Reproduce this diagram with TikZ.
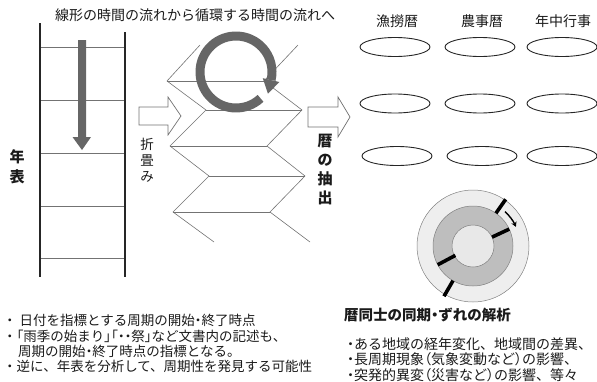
\documentclass[tikz,border=0pt]{standalone}
\usepackage{fontspec}
\setmainfont{Noto Sans CJK JP}
\newfontfamily\pp[RawFeature=+palt]{Noto Sans CJK JP}
\usetikzlibrary{calc,shapes.geometric,arrows.meta}
\definecolor{arrowgray}{HTML}{666666}
\definecolor{ringlight}{HTML}{EEEEEE}
\definecolor{ringmid}{HTML}{BEBEBE}
\definecolor{ringinner}{HTML}{E8E8E8}
\definecolor{txt}{HTML}{1A1A1A}
\begin{document}
\begin{tikzpicture}[x=1pt,y=-1pt,
  rail/.style={draw=black!85,line width=1.6pt},
  rung/.style={draw=black!55,line width=0.7pt},
  fold/.style={draw=black!55,line width=0.6pt},
  hollow/.style={draw=black!55,fill=white,line width=0.7pt},
  ell/.style={ellipse,draw=black!85,line width=0.9pt,fill=white,minimum width=70pt,minimum height=19pt,inner sep=0pt},
  ringline/.style={draw=black!50,line width=0.5pt},
  blackmark/.style={draw=black,line width=3.6pt},
  lbl/.style={text=txt,inner sep=0pt},
  listl/.style={lbl,anchor=base west,font=\fontsize{13.5}{15}\selectfont},
  listr/.style={lbl,anchor=base west,font=\fontsize{14}{15}\selectfont}]
\useasboundingbox (0,0) rectangle (597,381);
\clip (0,0) rectangle (597,381);
% ---------- ladder (timeline) ----------
\coordinate (LT) at (40,23); \coordinate (LB) at (40,277);
\coordinate (RT) at (125,32); \coordinate (RB) at (125,277);
\foreach \y in {47,100,153,206,258} \draw[rung] (40,\y) -- (125,\y);
\draw[rail] (LT) -- (LB);
\draw[rail] (RT) -- (RB);
\fill[arrowgray] (78,40) -- (86,40) -- (86,137) -- (91,137) -- (82,150) -- (72.5,137) -- (78,137) -- cycle;
\node[lbl,align=center,font=\bfseries\fontsize{15}{20}\selectfont] (nenpyo) at (17,167) {年\\表};
% ---------- arrow 1 ----------
\draw[hollow] (139,107) -- (168,107) -- (168,97) -- (181,116) -- (168,135) -- (168,125) -- (139,125) -- cycle;
\node[lbl,align=center,font=\fontsize{13.5}{16}\selectfont] (oritatami) at (147,160) {折\\畳\\み};
% ---------- folded zigzag ----------
\coordinate (TL) at (200,45); \coordinate (TR) at (298,45);
\coordinate (L0) at (167,81);  \coordinate (R0) at (264,81);
\coordinate (L1) at (206,110); \coordinate (R1) at (302,110);
\coordinate (L2) at (170,146); \coordinate (R2) at (267,146);
\coordinate (L3) at (209,176); \coordinate (R3) at (305,176);
\coordinate (L4) at (173,212); \coordinate (R4) at (270,212);
\coordinate (EL) at (214,242); \coordinate (ER) at (310,242);
\draw[fold] (TL) -- (L0) -- (L1) -- (L2) -- (L3) -- (L4) -- (EL);
\draw[fold] (TR) -- (R0) -- (R1) -- (R2) -- (R3) -- (R4) -- (ER);
\draw[fold] (L0) -- (R0) (L1) -- (R1) (L2) -- (R2) (L3) -- (R3) (L4) -- (R4);
% ---------- cycle arrow ----------
\coordinate (cc) at (236,72);
\draw[line width=9pt,arrowgray] ($(cc)+(-47:36pt)$) arc[start angle=-47,end angle=-373,radius=36pt];
\fill[arrowgray] ($(cc)+(-13:44.5pt)$) -- ($(cc)+(-13:36pt)+(-103:14pt)$) -- ($(cc)+(-13:27.5pt)$) -- cycle;
% ---------- title ----------
\node[lbl,font=\fontsize{14}{16}\selectfont] (title) at (195,15) {線形の時間の流れから循環する時間の流れへ};
% ---------- arrow 2 ----------
\draw[hollow] (308,107) -- (338,107) -- (338,97) -- (350,117) -- (338,137) -- (338,127) -- (308,127) -- cycle;
\node[lbl,align=center,font=\bfseries\fontsize{15}{19}\selectfont] (chushutsu) at (325,170) {暦\\の\\抽\\出};
% ---------- calendars ----------
\node[lbl,font=\fontsize{14}{16}\selectfont] (h1) at (397,21) {漁撈暦};
\node[lbl,font=\fontsize{14}{16}\selectfont] (h2) at (482,21) {農事暦};
\node[lbl,font=\fontsize{14}{16}\selectfont] (h3) at (563,21) {年中行事};
\node[ell] (e11) at (395,47) {};
\node[ell] (e12) at (480,47) {};
\node[ell] (e13) at (562,47) {};
\node[ell] (e21) at (395,103.5) {};
\node[ell] (e22) at (480,103.5) {};
\node[ell] (e23) at (562,103.5) {};
\node[ell] (e31) at (397,156) {};
\node[ell] (e32) at (482,156) {};
\node[ell] (e33) at (562,156) {};
% ---------- ring ----------
\coordinate (rc) at (473,246);
\filldraw[ringline,fill=ringlight] (rc) circle[radius=56pt];
\filldraw[ringline,fill=ringmid] (rc) circle[radius=40pt];
\filldraw[ringline,fill=ringinner] (rc) circle[radius=21pt];
\draw[blackmark] ($(rc)+(55:40pt)$) -- ($(rc)+(55:57pt)$);
\draw[blackmark] ($(rc)+(-120:40pt)$) -- ($(rc)+(-120:58pt)$);
\draw[blackmark] ($(rc)+(25:21pt)$) -- ($(rc)+(25:40pt)$);
\draw[blackmark] ($(rc)+(208:20pt)$) -- ($(rc)+(208:40pt)$);
\draw[line width=1.4pt,-{Stealth[length=5pt,width=5.5pt]}] ($(rc)+(47:47pt)$) arc[start angle=47,end angle=24,radius=47pt];
% ---------- texts ----------
\node[listl] (l1) at (3,325) {・ 日付を指標とする周期の開始{\pp ・}終了時点};
\node[listl] (l2) at (3,341) {・{\pp 「}雨季の始まり{\pp 」「・・}祭{\pp 」}など文書内の記述も、};
\node[listl] (l3) at (18,356) {周期の開始{\pp ・}終了時点の指標となる。};
\node[listl] (l4) at (3,371) {・逆に、年表を分析して、周期性を発見する可能性};
\node[lbl,anchor=base west,font=\bfseries\fontsize{14.5}{17}\selectfont] (rtitle) at (344,320) {暦同士の同期{\pp ・}ずれの解析};
\node[listr] (r1) at (347,349) {{\pp ・}ある地域の経年変化、地域間の差異、};
\node[listr] (r2) at (347,364.5) {{\pp ・}長周期現象{\pp （}気象変動など{\pp ）}の影響、};
\node[listr] (r3) at (347,380) {{\pp ・}突発的異変{\pp （}災害など{\pp ）}の影響、等々};
\end{tikzpicture}
\end{document}
